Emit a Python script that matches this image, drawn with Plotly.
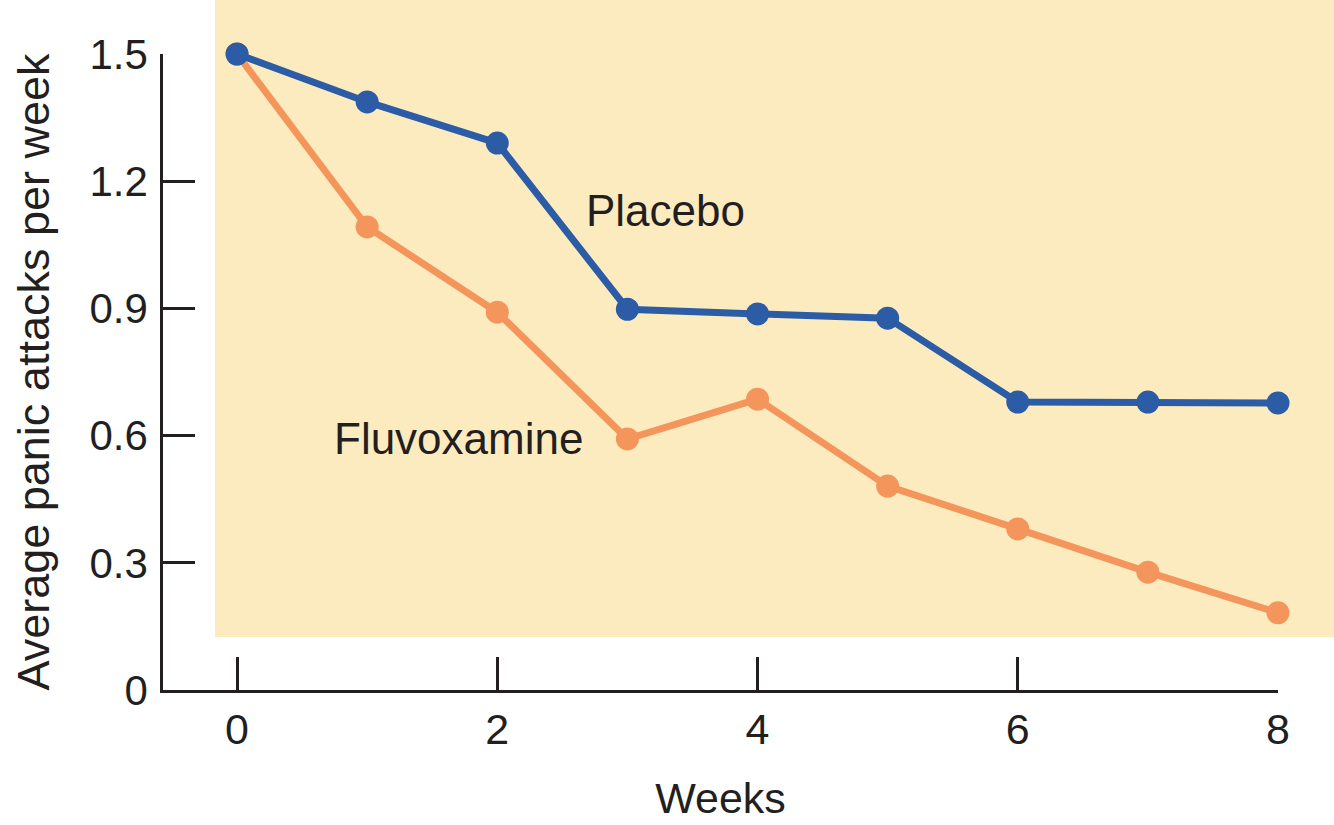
import plotly.graph_objects as go

weeks = [0, 1, 2, 3, 4, 5, 6, 7, 8]
placebo = [1.50, 1.387, 1.29, 0.898, 0.887, 0.877, 0.679, 0.679, 0.677]
fluvoxamine = [1.50, 1.092, 0.891, 0.592, 0.686, 0.481, 0.380, 0.278, 0.182]
x_ticks = [0, 2, 4, 6, 8]
y_ticks = [0, 0.3, 0.6, 0.9, 1.2, 1.5]
y_tick_labels = ["0", "0.3", "0.6", "0.9", "1.2", "1.5"]

BLUE = "#2b5ca5"
ORANGE = "#f4955c"
INK = "#231f20"
FONT = "Liberation Sans, Arial, Helvetica, sans-serif"

fig = go.Figure()
fig.add_trace(go.Scatter(x=weeks, y=fluvoxamine, mode="lines+markers",
                         line=dict(color=ORANGE, width=7),
                         marker=dict(color=ORANGE, size=23),
                         cliponaxis=False, showlegend=False))
fig.add_trace(go.Scatter(x=weeks, y=placebo, mode="lines+markers",
                         line=dict(color=BLUE, width=7),
                         marker=dict(color=BLUE, size=23),
                         cliponaxis=False, showlegend=False))

fig.add_shape(type="rect", xref="paper", yref="paper",
              x0=0.0466, x1=1.06, y0=0.0833, y1=1.1,
              fillcolor="#fdebc0", line=dict(width=0), layer="below")

fig.add_annotation(x=3.29, y=1.13, text="Placebo", showarrow=False,
                   font=dict(family=FONT, size=44, color=INK))
fig.add_annotation(x=1.70, y=0.594, text="Fluvoxamine", showarrow=False,
                   font=dict(family=FONT, size=44, color=INK))

fig.update_layout(
    width=1334, height=825,
    margin=dict(l=163, r=56, t=54, b=135, autoexpand=False),
    paper_bgcolor="white", plot_bgcolor="rgba(0,0,0,0)",
    font=dict(family=FONT, color=INK),
    xaxis=dict(range=[-0.569, 8], tickvals=x_ticks, ticks="inside", ticklen=33,
               tickwidth=2.5, tickcolor=INK, showline=True, linecolor=INK,
               linewidth=2.5, showgrid=False, zeroline=False, automargin=False,
               tickfont=dict(size=43, color=INK), ticklabelstandoff=0,
               title=dict(text="Weeks", font=dict(size=43, color=INK), standoff=31)),
    yaxis=dict(range=[0, 1.5], tickvals=y_ticks, ticktext=y_tick_labels,
               ticks="inside", ticklen=32, tickwidth=2.5, tickcolor=INK,
               showline=True, linecolor=INK, linewidth=2.5, showgrid=False,
               zeroline=False, automargin=False, tickfont=dict(size=42, color=INK),
               ticklabelstandoff=4,
               title=dict(text="Average panic attacks per week",
                          font=dict(family="Liberation Sans Narrow, " + FONT, size=45, color=INK),
                          standoff=26)),
)

fig.write_html("out.html")
